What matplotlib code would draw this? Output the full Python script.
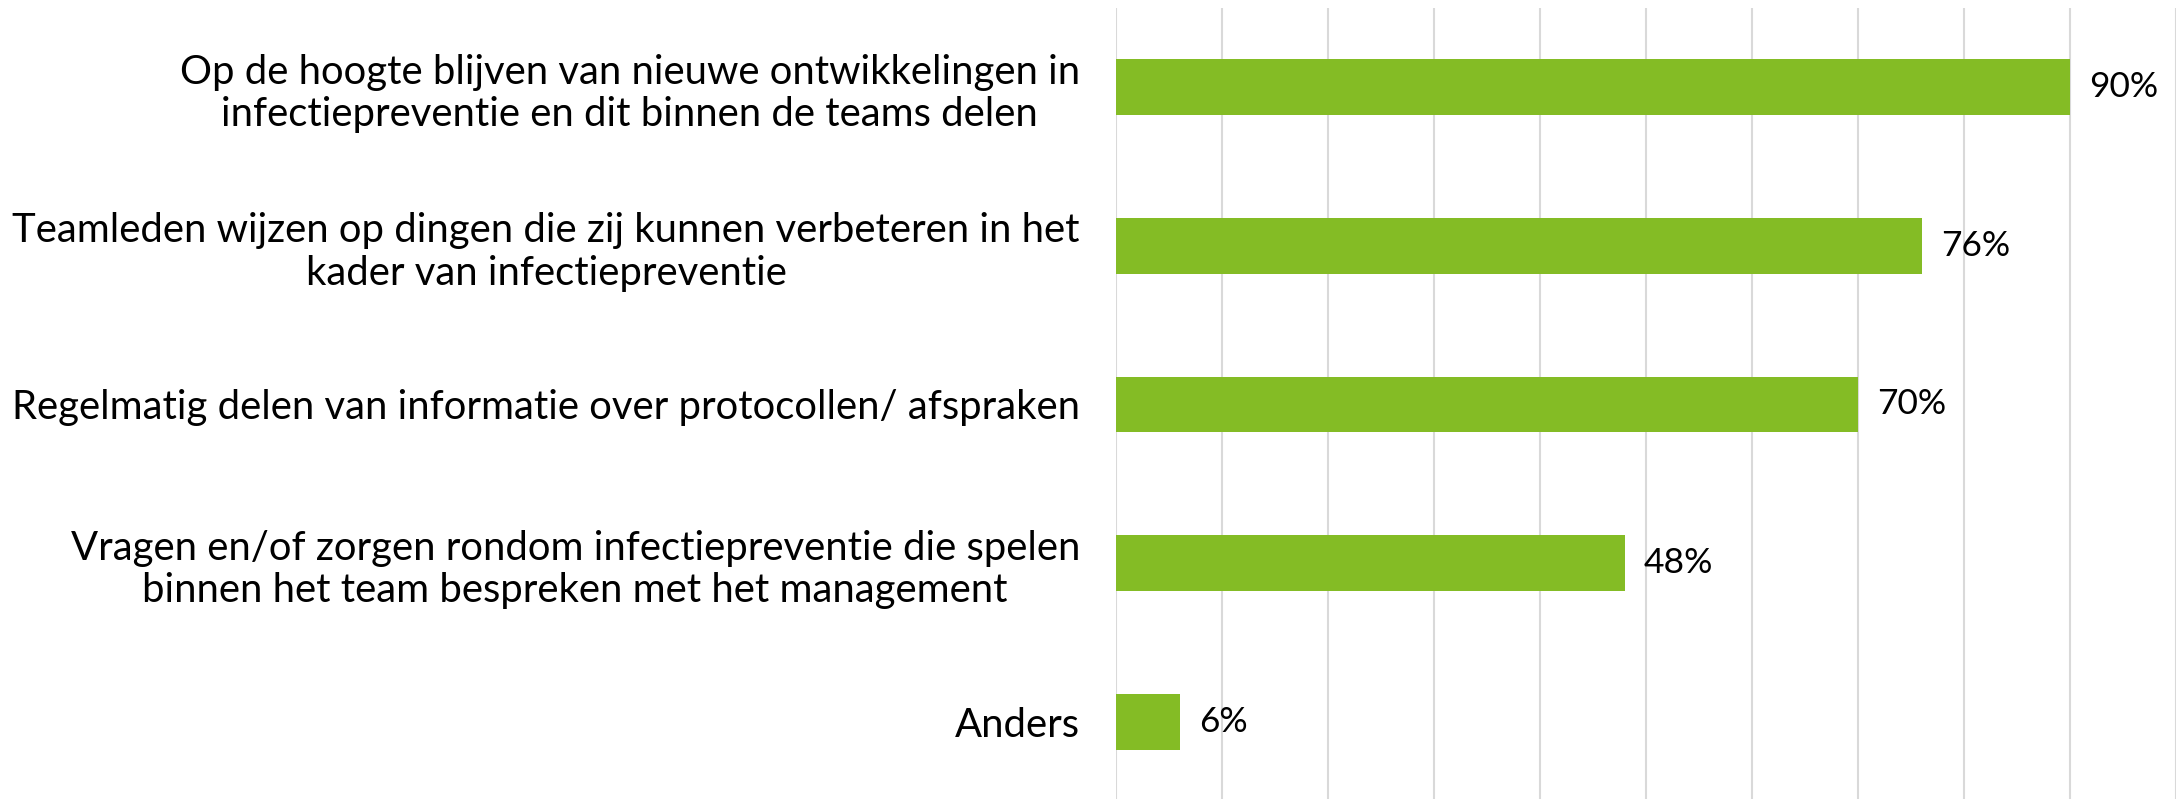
import numpy as np
import matplotlib.pyplot as plt

# Data
categories = [
    "Op de hoogte blijven van nieuwe ontwikkelingen in\ninfectiepreventie en dit binnen de teams delen",
    "Teamleden wijzen op dingen die zij kunnen verbeteren in het\nkader van infectiepreventie",
    "Regelmatig delen van informatie over protocollen/ afspraken",
    "Vragen en/of zorgen rondom infectiepreventie die spelen\nbinnen het team bespreken met het management",
    "Anders",
]
values = [90, 76, 70, 48, 6]
value_labels = ["90%", "76%", "70%", "48%", "6%"]

bar_color = "#84BC25"
grid_color = "#D9D9D9"
font_name = "Lato"
label_size = 28.8
value_size = 25.5

fig = plt.figure(figsize=(21.76, 7.99), dpi=100)
ax = fig.add_axes([1116 / 2176, 1 - 801 / 799, 1 - 1116 / 2176, 793 / 799])

y = np.arange(len(categories))
ax.barh(y, values, height=0.353, color=bar_color, zorder=3)

for yi, v, lab in zip(y, values, value_labels):
    ax.text(v + 1.8, yi, lab, va="center", ha="left",
            fontsize=value_size, family=font_name, color="black")

ax.set_xlim(0, 100)
ax.set_ylim(len(categories) - 0.5, -0.5)
ax.set_xticks(np.arange(0, 101, 10))
ax.set_xticklabels([])
ax.xaxis.grid(True, color=grid_color, linewidth=1.5, zorder=0)
ax.tick_params(axis="x", length=0)

ax.set_yticks(y)
ax.set_yticklabels(categories, fontsize=label_size, family=font_name)
for lbl in ax.get_yticklabels():
    lbl.set_multialignment("center")
    lbl.set_linespacing(1.18)
ax.tick_params(axis="y", length=0, pad=26)

for side in ["top", "right", "bottom", "left"]:
    ax.spines[side].set_visible(False)

fig.savefig("out.png", dpi=100)
